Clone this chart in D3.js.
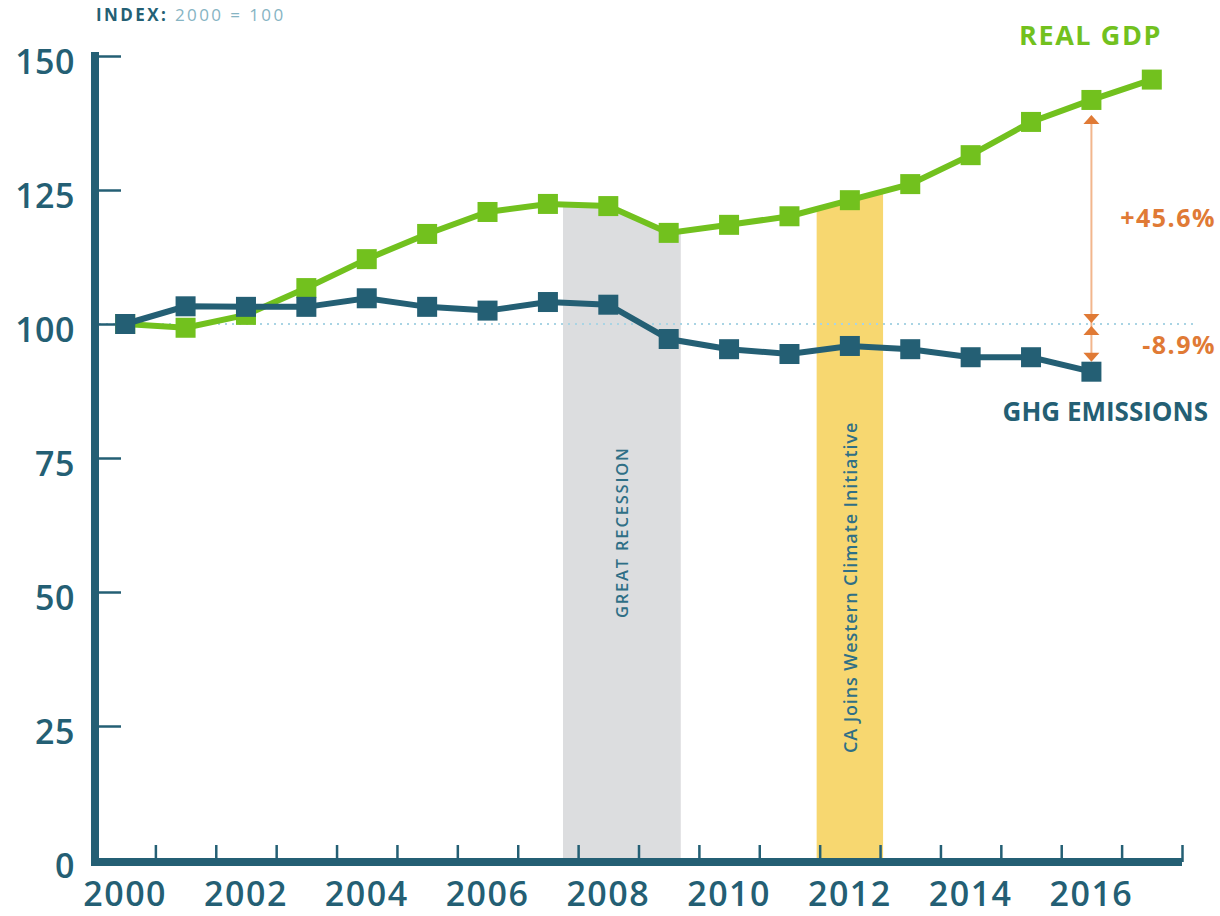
<!DOCTYPE html>
<html>
<head>
<meta charset="utf-8">
<script src="https://cdn.jsdelivr.net/npm/d3@7"></script>
<style>
  body { margin: 0; background: #fff; }
  text { font-family: "Open Sans", sans-serif; }
</style>
</head>
<body>
<script>
const years = [2000, 2001, 2002, 2003, 2004, 2005, 2006, 2007, 2008,
  2009, 2010, 2011, 2012, 2013, 2014, 2015, 2016, 2017];
const gdpValues = [100, 99.3, 101.7, 106.7, 112.1, 116.8, 120.9, 122.4, 122.0,
  117.0, 118.5, 120.1, 123.1, 126.1, 131.5, 137.7, 141.8, 145.6];
const ghgValues = [100, 103.3, 103.2, 103.2, 104.8, 103.2, 102.5, 104.1, 103.6,
  97.2, 95.3, 94.4, 95.9, 95.3, 93.8, 93.8, 91.1];
const yTicks = [0, 25, 50, 75, 100, 125, 150];
const xLabels = [2000, 2002, 2004, 2006, 2008, 2010, 2012, 2014, 2016];
const bands = [
  { label: "GREAT RECESSION", start: 2007.25, end: 2009.2, fill: "#dcdddf" },
  { label: "CA Joins Western Climate Initiative", start: 2011.45, end: 2012.55, fill: "#f7d770" },
];

const baseWidth = 1220,
  baseHeight = 916,
  dark = "#245f74",
  green = "#72c11e",
  orange = "#e07a35";

const gdp = years.map((yr, i) => ({ year: yr, value: gdpValues[i] }));
const ghg = years.slice(0, ghgValues.length).map((yr, i) => ({ year: yr, value: ghgValues[i] }));

const x = d3.scaleLinear().domain([1999.5, 2017.5]).range([95, 1182]);
const y = d3.scaleLinear().domain([0, 150]).range([860, 56]);

const svg = d3
  .select("body")
  .append("svg")
  .attr("width", baseWidth)
  .attr("height", baseHeight);

// bands only show below the gdp line
svg
  .append("clipPath")
  .attr("id", "underGdp")
  .append("path")
  .attr(
    "d",
    d3.area()
      .x((d) => x(d.year))
      .y0(y(0))
      .y1((d) => y(d.value))(gdp)
  );

svg
  .append("g")
  .attr("clip-path", "url(#underGdp)")
  .selectAll("rect")
  .data(bands)
  .enter()
  .append("rect")
  .attr("x", (d) => x(d.start))
  .attr("width", (d) => x(d.end) - x(d.start))
  .attr("y", y(150))
  .attr("height", y(0) - y(150))
  .attr("fill", (d) => d.fill);

svg
  .selectAll(".band-label")
  .data(bands)
  .enter()
  .append("text")
  .attr("class", "band-label")
  .attr("transform", (d, i) =>
    i === 0
      ? "translate(" + ((x(d.start) + x(d.end)) / 2 + 6) + ",618) rotate(-90)"
      : "translate(" + ((x(d.start) + x(d.end)) / 2 + 7) + ",753) rotate(-90)"
  )
  .attr("fill", "#2f6f86")
  .style("font-size", (d, i) => (i === 0 ? "16.5px" : "18px"))
  .style("font-weight", 600)
  .style("letter-spacing", (d, i) => (i === 0 ? "1.8px" : "0.9px"))
  .text((d) => d.label);

// reference line at 100
svg
  .append("line")
  .attr("x1", 99)
  .attr("x2", 1196)
  .attr("y1", y(100))
  .attr("y2", y(100))
  .attr("stroke", "#a9d4e4")
  .attr("stroke-width", 2)
  .attr("stroke-dasharray", "2,5");

// y axis
const yAxis = svg
  .append("g")
  .attr("transform", "translate(95,0)")
  .call(d3.axisLeft(y).tickValues(yTicks).tickSize(-26).tickPadding(20));
yAxis.select(".domain").remove();
yAxis.selectAll(".tick line").attr("stroke", dark).attr("stroke-width", 2.5);
yAxis
  .selectAll(".tick text")
  .attr("fill", dark)
  .attr("dy", "0.52em")
  .style("font-size", "34px")
  .style("font-weight", 600)
  .style("letter-spacing", "0.5px");

// x axis ticks sit between the years
const xAxis = svg
  .append("g")
  .attr("transform", "translate(0," + 862 + ")")
  .call(
    d3.axisBottom(x)
      .tickValues(years.map((yr) => yr + 0.5))
      .tickSize(-17)
      .tickFormat("")
  );
xAxis.select(".domain").remove();
xAxis.selectAll(".tick line").attr("stroke", dark).attr("stroke-width", 2.5);

svg
  .append("path")
  .attr("d", "M95,52 V862 H1182")
  .attr("fill", "none")
  .attr("stroke", dark)
  .attr("stroke-width", 8);

svg
  .selectAll(".x-label")
  .data(xLabels)
  .enter()
  .append("text")
  .attr("class", "x-label")
  .attr("x", (d) => x(d))
  .attr("y", 906)
  .attr("text-anchor", "middle")
  .attr("fill", dark)
  .style("font-size", "34px")
  .style("font-weight", 600)
  .style("letter-spacing", "1.5px")
  .text((d) => d);

// change annotation
const ax = x(2016);
const arrow = (tipY, dir) =>
  "M" + (ax - 8) + "," + (tipY + dir * 9) + " L" + (ax + 8) + "," + (tipY + dir * 9) + " L" + ax + "," + tipY + " Z";

svg
  .append("line")
  .attr("x1", ax)
  .attr("x2", ax)
  .attr("y1", y(gdpValues[16]) + 20)
  .attr("y2", y(ghgValues[16]) - 14)
  .attr("stroke", "#f2b68d")
  .attr("stroke-width", 2);

svg
  .selectAll(".arrow")
  .data([
    [y(gdpValues[16]) + 15, 1],
    [y(100) - 1, -1],
    [y(100) + 2, 1],
    [y(ghgValues[16]) - 10, -1],
  ])
  .enter()
  .append("path")
  .attr("class", "arrow")
  .attr("d", (d) => arrow(d[0], d[1]))
  .attr("fill", orange);

svg
  .append("text")
  .attr("x", 1216)
  .attr("y", 227)
  .attr("text-anchor", "end")
  .attr("fill", orange)
  .style("font-size", "25px")
  .style("font-weight", 700)
  .style("letter-spacing", "1.5px")
  .text("+45.6%");

svg
  .append("text")
  .attr("x", 1216)
  .attr("y", 354)
  .attr("text-anchor", "end")
  .attr("fill", orange)
  .style("font-size", "25px")
  .style("font-weight", 700)
  .style("letter-spacing", "1.5px")
  .text("-8.9%");

// series
const line = d3
  .line()
  .x((d) => x(d.year))
  .y((d) => y(d.value));

[
  { data: gdp, color: green },
  { data: ghg, color: dark },
].forEach((s) => {
  svg
    .append("path")
    .datum(s.data)
    .attr("d", line)
    .attr("fill", "none")
    .attr("stroke", s.color)
    .attr("stroke-width", 6);

  svg
    .append("g")
    .selectAll("rect")
    .data(s.data)
    .enter()
    .append("rect")
    .attr("x", (d) => x(d.year) - 10)
    .attr("y", (d) => y(d.value) - 10)
    .attr("width", 20)
    .attr("height", 20)
    .attr("fill", s.color);
});

// series labels
svg
  .append("text")
  .attr("x", 1019)
  .attr("y", 45)
  .attr("fill", green)
  .style("font-size", "27px")
  .style("font-weight", 700)
  .style("letter-spacing", "1.6px")
  .text("REAL GDP");

svg
  .append("text")
  .attr("x", 1208)
  .attr("y", 421)
  .attr("text-anchor", "end")
  .attr("fill", dark)
  .style("font-size", "26px")
  .style("font-weight", 700)
  .text("GHG EMISSIONS");

const index = svg
  .append("text")
  .attr("x", 96)
  .attr("y", 21)
  .style("font-size", "17px")
  .style("letter-spacing", "2.4px");
index.append("tspan").attr("fill", dark).style("font-weight", 700).text("INDEX:");
index.append("tspan").attr("fill", "#86b4c3").text(" 2000 = 100");
</script>
</body>
</html>
